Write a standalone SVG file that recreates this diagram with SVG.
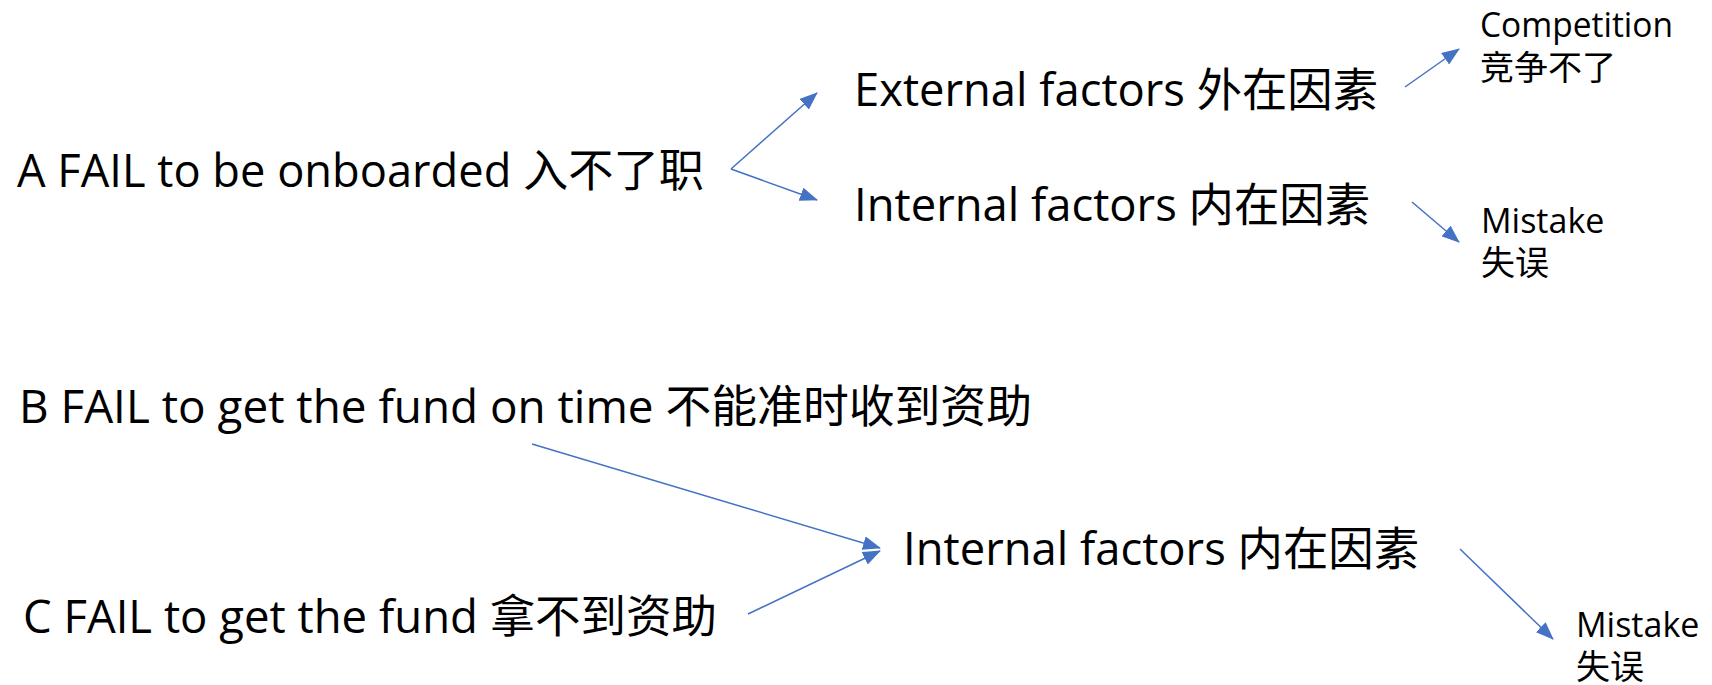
<svg xmlns="http://www.w3.org/2000/svg" width="1712" height="685" viewBox="0 0 1712 685">
  <style>
    .big { font-family: "Open Sans", "Noto Sans CJK SC", sans-serif; font-size: 45px; fill: #000; }
    .mid { font-family: "Open Sans", "Noto Sans CJK SC", sans-serif; font-size: 46px; fill: #000; }
    .small { font-family: "Open Sans", "Noto Sans CJK SC", sans-serif; font-size: 34px; fill: #000; }
    .link { stroke: #4472C4; stroke-width: 1.5; fill: none; marker-end: url(#arrow); }
  </style>
  <defs>
    <marker id="arrow" markerUnits="userSpaceOnUse" markerWidth="18" markerHeight="14" viewBox="0 0 18 14" refX="17" refY="7" orient="auto">
      <path d="M0,0 L18,7 L0,14 Z" fill="#4472C4"/>
    </marker>
  </defs>

  <!-- Case A -->
  <g id="node-a">
    <text class="big" x="17" y="187" textLength="687" lengthAdjust="spacingAndGlyphs">A FAIL to be onboarded 入不了职</text>
  </g>
  <g id="node-a-external">
    <text class="mid" x="854" y="106" textLength="524" lengthAdjust="spacingAndGlyphs">External factors 外在因素</text>
  </g>
  <g id="node-a-internal">
    <text class="mid" x="854" y="221" textLength="516" lengthAdjust="spacingAndGlyphs">Internal factors 内在因素</text>
  </g>
  <g id="node-competition">
    <text class="small" x="1480" y="37" textLength="193" lengthAdjust="spacingAndGlyphs">Competition</text>
    <text class="small" x="1480" y="80">竞争不了</text>
  </g>
  <g id="node-a-mistake">
    <text class="small" x="1481" y="233">Mistake</text>
    <text class="small" x="1481" y="275">失误</text>
  </g>

  <!-- Cases B and C -->
  <g id="node-b">
    <text class="big" x="19" y="423" textLength="1013" lengthAdjust="spacingAndGlyphs">B FAIL to get the fund on time 不能准时收到资助</text>
  </g>
  <g id="node-c">
    <text class="big" x="23" y="633" textLength="694" lengthAdjust="spacingAndGlyphs">C FAIL to get the fund 拿不到资助</text>
  </g>
  <g id="node-bc-internal">
    <text class="mid" x="903" y="565" textLength="516" lengthAdjust="spacingAndGlyphs">Internal factors 内在因素</text>
  </g>
  <g id="node-bc-mistake">
    <text class="small" x="1576" y="637">Mistake</text>
    <text class="small" x="1576" y="679">失误</text>
  </g>

  <!-- Connectors -->
  <g id="connectors">
    <path class="link" d="M731,169 L817,93"/>
    <path class="link" d="M731,169 L817,200"/>
    <path class="link" d="M1405,87 L1459,49"/>
    <path class="link" d="M1412,202 L1459,242"/>
    <path class="link" d="M532,444 L880,548"/>
    <path class="link" d="M748,614 L880,551"/>
    <path class="link" d="M1460,549 L1553,639"/>
  </g>
</svg>
